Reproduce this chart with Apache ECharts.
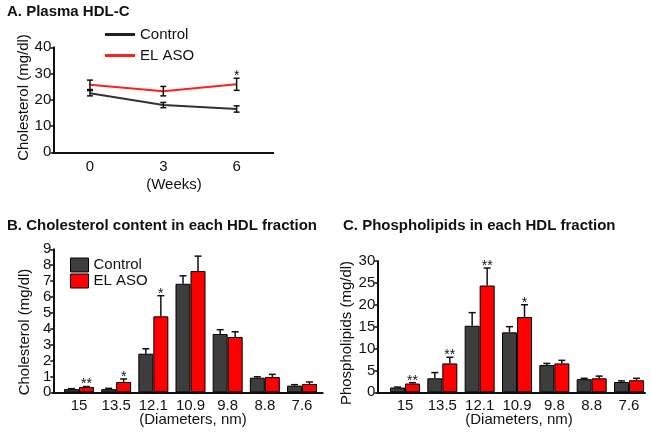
<!DOCTYPE html>
<html><head><meta charset="utf-8">
<script src="https://cdn.jsdelivr.net/npm/echarts@6/dist/echarts.min.js"></script>
<style>html,body{margin:0;padding:0;background:#fff}#c{width:651px;height:435px}</style>
</head><body><div id="c"></div>
<script>
// Panel A: plasma HDL-C over weeks
const weeks = ['0', '3', '6'];
const hdlControl = [22.5, 18.0, 16.5];
const hdlControlErr = [1.0, 1.0, 1.2];
const hdlAso = [25.7, 23.3, 25.9];
const hdlAsoErr = [1.8, 1.8, 2.3];
const hdlStars = ['', '', '*'];

// Panel B: cholesterol per HDL fraction
const diameters = ['15', '13.5', '12.1', '10.9', '9.8', '8.8', '7.6'];
const cholControl = [0.2, 0.2, 2.43, 6.83, 3.67, 0.92, 0.42];
const cholControlErr = [0.03, 0.05, 0.31, 0.5, 0.27, 0.06, 0.06];
const cholAso = [0.33, 0.65, 4.78, 7.63, 3.48, 0.96, 0.52];
const cholAsoErr = [0.03, 0.19, 1.3, 0.94, 0.33, 0.17, 0.13];
const cholStars = ['**', '*', '*', '', '', '', ''];

// Panel C: phospholipids per HDL fraction
const phosControl = [1.1, 3.2, 15.2, 13.7, 6.25, 3.0, 2.36];
const phosControlErr = [0.1, 1.3, 3.0, 1.3, 0.35, 0.2, 0.25];
const phosAso = [2.0, 6.6, 24.4, 17.2, 6.6, 3.2, 2.75];
const phosAsoErr = [0.2, 1.4, 4.0, 2.8, 0.7, 0.5, 0.45];
const phosStars = ['**', '**', '**', '*', '', '', ''];

const FONT = 'Liberation Sans, Arial, Helvetica, sans-serif';
const INK = '#111';
const GRAY = '#3d3d3d';
const RED = '#ff0000';

function errSeries(xi, yi, vals, errs, offset, twoSided, stars) {
  return {
    type: 'custom', xAxisIndex: xi, yAxisIndex: yi, z: 10, silent: true,
    encode: { x: 0, y: 1 },
    data: vals.map((v, i) => [i, v, errs[i]]),
    renderItem: function (params, api) {
      const i = api.value(0), v = api.value(1), e = api.value(2);
      const top = api.coord([i, v + e]);
      const bot = api.coord([i, twoSided ? v - e : v]);
      const x = top[0] + offset;
      const st = { stroke: INK, lineWidth: 1.5 };
      const hw = twoSided ? 3 : 3.5;
      const ch = [
        { type: 'line', shape: { x1: x, y1: top[1], x2: x, y2: bot[1] }, style: st },
        { type: 'line', shape: { x1: x - hw, y1: top[1], x2: x + hw, y2: top[1] }, style: st }
      ];
      if (twoSided) ch.push({ type: 'line', shape: { x1: x - hw, y1: bot[1], x2: x + hw, y2: bot[1] }, style: st });
      if (stars && stars[i]) ch.push({ type: 'text', x: x, y: top[1] - 2,
        style: { text: stars[i], textAlign: 'center', textVerticalAlign: 'middle', fontSize: 14, fontFamily: FONT, fill: INK } });
      return { type: 'group', children: ch };
    }
  };
}

const labelStyle = { fontSize: 15, color: INK, fontFamily: FONT };
const lineAxis = { show: true, lineStyle: { color: INK, width: 2 } };

const chart = echarts.init(document.getElementById('c'), null, { renderer: 'canvas' });
chart.setOption({
  animation: false,
  textStyle: { fontFamily: FONT },
  title: [
    { text: 'A. Plasma HDL-C', left: 7, top: 4, padding: 0, textStyle: { fontSize: 15, fontWeight: 'bold', color: INK, fontFamily: FONT } },
    { text: 'B. Cholesterol content in each HDL fraction', left: 7, top: 218, padding: 0, textStyle: { fontSize: 15, fontWeight: 'bold', color: INK, fontFamily: FONT } },
    { text: 'C. Phospholipids in each HDL fraction', left: 343, top: 218, padding: 0, textStyle: { fontSize: 15, fontWeight: 'bold', color: INK, fontFamily: FONT } }
  ],
  legend: [
    { orient: 'vertical', left: 105, top: 26, padding: 0, itemWidth: 30, itemHeight: 3, itemGap: 4, selectedMode: false,
      textStyle: Object.assign({ lineHeight: 17 }, labelStyle),
      data: [
        { name: 'Control', icon: 'rect', itemStyle: { color: '#222', borderWidth: 0 } },
        { name: 'EL ASO', icon: 'rect', itemStyle: { color: '#ff2020', borderWidth: 0 } }
      ] },
    { orient: 'vertical', left: 70, top: 257, padding: 0, itemWidth: 18, itemHeight: 14, itemGap: 0, selectedMode: false,
      textStyle: Object.assign({ lineHeight: 16 }, labelStyle),
      data: [
        { name: 'Control', icon: 'rect', itemStyle: { color: GRAY, borderColor: '#000', borderWidth: 1 } },
        { name: 'EL ASO', icon: 'rect', itemStyle: { color: RED, borderColor: '#000', borderWidth: 1 } }
      ] }
  ],
  grid: [
    { left: 53.3, top: 47.3, width: 220, height: 105 },
    { left: 60.4, top: 249.3, width: 260.2, height: 143 },
    { left: 53.3, top: 249.3, width: 269.4, height: 143 },
    { left: 386.3, top: 261, width: 261.4, height: 131.3 },
    { left: 377.3, top: 261, width: 267.7, height: 131.3 }
  ],
  xAxis: [
    { gridIndex: 0, type: 'category', data: weeks, boundaryGap: true, axisLine: lineAxis, axisTick: { show: false },
      axisLabel: Object.assign({ margin: 7 }, labelStyle) },
    { gridIndex: 1, type: 'category', data: diameters, boundaryGap: true, axisLine: { show: false }, axisTick: { show: false },
      axisLabel: Object.assign({ margin: 6, interval: 0 }, labelStyle) },
    { gridIndex: 2, type: 'value', min: 0, max: 1, axisLine: lineAxis, axisTick: { show: false }, axisLabel: { show: false }, splitLine: { show: false } },
    { gridIndex: 3, type: 'category', data: diameters, boundaryGap: true, axisLine: { show: false }, axisTick: { show: false },
      axisLabel: Object.assign({ margin: 6, interval: 0 }, labelStyle) },
    { gridIndex: 4, type: 'value', min: 0, max: 1, axisLine: lineAxis, axisTick: { show: false }, axisLabel: { show: false }, splitLine: { show: false } }
  ],
  yAxis: [
    { gridIndex: 0, type: 'value', min: 0, max: 40, interval: 10, axisLine: lineAxis,
      axisTick: { show: true, length: 3, lineStyle: { color: INK, width: 1.5 } },
      axisLabel: Object.assign({ margin: 2 }, labelStyle), splitLine: { show: false } },
    { gridIndex: 1, type: 'value', min: 0, max: 9, show: false, splitLine: { show: false } },
    { gridIndex: 2, type: 'value', min: 0, max: 9, interval: 1, axisLine: lineAxis,
      axisTick: { show: true, length: 3, lineStyle: { color: INK, width: 1.5 } },
      axisLabel: Object.assign({ margin: 2 }, labelStyle), splitLine: { show: false } },
    { gridIndex: 3, type: 'value', min: 0, max: 30, show: false, splitLine: { show: false } },
    { gridIndex: 4, type: 'value', min: 0, max: 30, interval: 5, axisLine: lineAxis,
      axisTick: { show: true, length: 3, lineStyle: { color: INK, width: 1.5 } },
      axisLabel: Object.assign({ margin: 2 }, labelStyle), splitLine: { show: false } }
  ],
  graphic: [
    { type: 'text', x: 23.5, y: 97.5, rotation: Math.PI / 2, style: { text: 'Cholesterol (mg/dl)', fontSize: 15, fontFamily: FONT, fill: INK, textAlign: 'center', textVerticalAlign: 'middle' } },
    { type: 'text', x: 174, y: 185, style: { text: '(Weeks)', fontSize: 15, fontFamily: FONT, fill: INK, textAlign: 'center', textVerticalAlign: 'middle' } },
    { type: 'text', x: 24.5, y: 332, rotation: Math.PI / 2, style: { text: 'Cholesterol (mg/dl)', fontSize: 15, fontFamily: FONT, fill: INK, textAlign: 'center', textVerticalAlign: 'middle' } },
    { type: 'text', x: 193, y: 420, style: { text: '(Diameters, nm)', fontSize: 15, fontFamily: FONT, fill: INK, textAlign: 'center', textVerticalAlign: 'middle' } },
    { type: 'text', x: 347, y: 333, rotation: Math.PI / 2, style: { text: 'Phospholipids (mg/dl)', fontSize: 15, fontFamily: FONT, fill: INK, textAlign: 'center', textVerticalAlign: 'middle' } },
    { type: 'text', x: 519, y: 420, style: { text: '(Diameters, nm)', fontSize: 15, fontFamily: FONT, fill: INK, textAlign: 'center', textVerticalAlign: 'middle' } }
  ],
  series: [
    { name: 'Control', type: 'line', xAxisIndex: 0, yAxisIndex: 0, data: hdlControl, symbol: 'none',
      lineStyle: { color: '#333', width: 2 }, itemStyle: { color: '#333' }, z: 3 },
    { name: 'EL ASO', type: 'line', xAxisIndex: 0, yAxisIndex: 0, data: hdlAso, symbol: 'none',
      lineStyle: { color: '#ff2020', width: 2 }, itemStyle: { color: '#ff2020' }, z: 3 },
    errSeries(0, 0, hdlControl, hdlControlErr, 0, true, null),
    errSeries(0, 0, hdlAso, hdlAsoErr, 0, true, hdlStars),

    { name: 'Control', type: 'bar', xAxisIndex: 1, yAxisIndex: 1, data: cholControl, barWidth: 15, barGap: '0%',
      itemStyle: { color: GRAY, borderColor: '#000', borderWidth: 1 } },
    { name: 'EL ASO', type: 'bar', xAxisIndex: 1, yAxisIndex: 1, data: cholAso, barWidth: 15, barGap: '0%',
      itemStyle: { color: RED, borderColor: '#000', borderWidth: 1 } },
    errSeries(1, 1, cholControl, cholControlErr, -7.5, false, null),
    errSeries(1, 1, cholAso, cholAsoErr, 7.5, false, cholStars),

    { name: 'Control', type: 'bar', xAxisIndex: 3, yAxisIndex: 3, data: phosControl, barWidth: 15, barGap: '0%',
      itemStyle: { color: GRAY, borderColor: '#000', borderWidth: 1 } },
    { name: 'EL ASO', type: 'bar', xAxisIndex: 3, yAxisIndex: 3, data: phosAso, barWidth: 15, barGap: '0%',
      itemStyle: { color: RED, borderColor: '#000', borderWidth: 1 } },
    errSeries(3, 3, phosControl, phosControlErr, -7.5, false, null),
    errSeries(3, 3, phosAso, phosAsoErr, 7.5, false, phosStars)
  ]
});
</script>
</body></html>
